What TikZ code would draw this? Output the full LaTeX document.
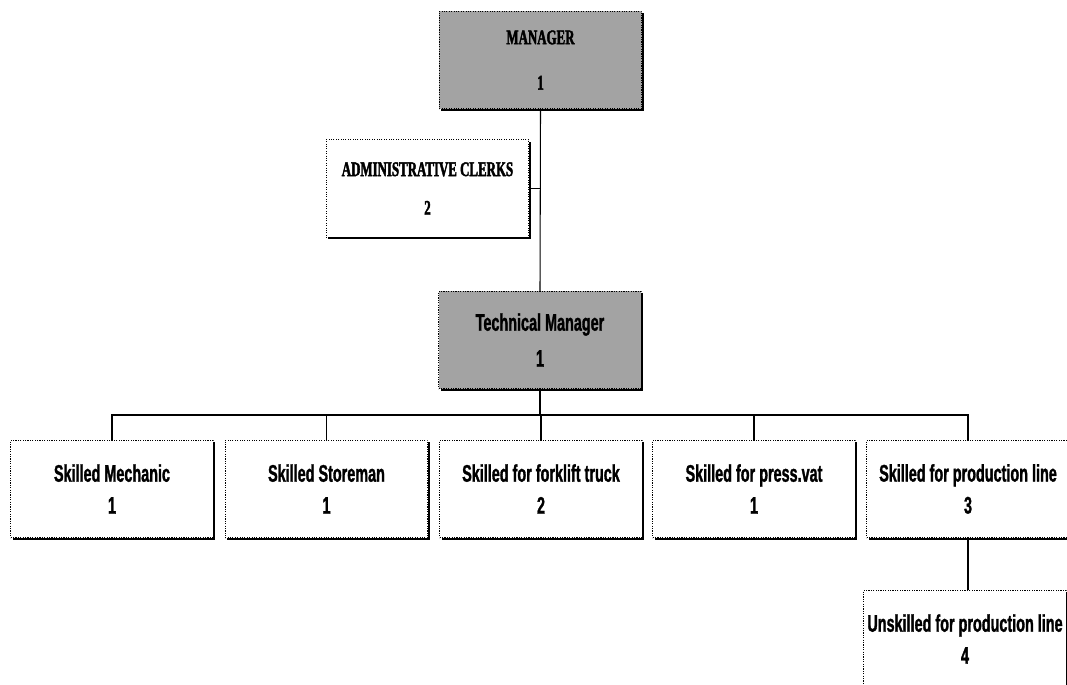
\documentclass[tikz,border=0pt]{standalone}
\usepackage{fontspec}
\usetikzlibrary{shadows}
\newfontfamily\orgfont[FakeStretch=0.6,FakeBold=1.2]{Liberation Sans}
\newfontfamily\headfont[FakeStretch=0.62,FakeBold=2]{Liberation Serif}
\tikzset{
  orgbox/.style={draw, densely dotted, line width=0.8pt, fill=white,
    minimum width=152pt, minimum height=73pt, align=center, inner sep=0pt,
    drop shadow={shadow xshift=1.5pt, shadow yshift=-1.5pt, fill=black, opacity=1},
    font=\orgfont\bfseries\fontsize{18}{24}\selectfont},
  headbox/.style={orgbox, fill=black!36},
  link/.style={draw, line width=0.8pt}
}
\begin{document}
\begin{tikzpicture}[x=0.75pt,y=0.75pt,yscale=-1,xscale=1]
\useasboundingbox (0,0) rectangle (1067,685);

%Shape: Manager
\node [headbox, font=\headfont\bfseries\fontsize{15.6}{34}\selectfont] (mgr) at (540.5,60) {MANAGER\\1};
%Shape: Administrative clerks
\node [orgbox, font=\headfont\bfseries\fontsize{15.6}{29}\selectfont] (admin) at (427.5,188.5) {ADMINISTRATIVE CLERKS\\2};
%Shape: Technical manager
\node [headbox, font=\orgfont\bfseries\fontsize{18}{27}\selectfont] (tech) at (540,340) {Technical Manager\\1};

%Shape: Skilled staff
\node [orgbox] (sk1) at (112,489) {Skilled Mechanic\\1};
\node [orgbox] (sk2) at (326.5,489) {Skilled Storeman\\1};
\node [orgbox] (sk3) at (541,489) {Skilled for forklift truck\\2};
\node [orgbox] (sk4) at (754,489) {Skilled for press.vat\\1};
\node [orgbox] (sk5) at (968,489) {Skilled for production line\\3};

%Shape: Unskilled staff
\node [orgbox] (unsk) at (965,639) {Unskilled for production line\\4};

%Straight Lines
\coordinate (bus) at (540,415);
\draw [link] (mgr.south) -- (tech.north);
\draw [link] (admin.east) -- (admin.east -| mgr.south);
\draw [link] (tech.south) -- (bus);
\draw [link] (sk1.north) |- (bus) -| (sk5.north);
\foreach \n in {2,3,4}
  \draw [link] (sk\n.north) -- (sk\n.north |- bus);
\draw [link] (sk5.south) -- (sk5.south |- unsk.north);

\end{tikzpicture}
\end{document}
